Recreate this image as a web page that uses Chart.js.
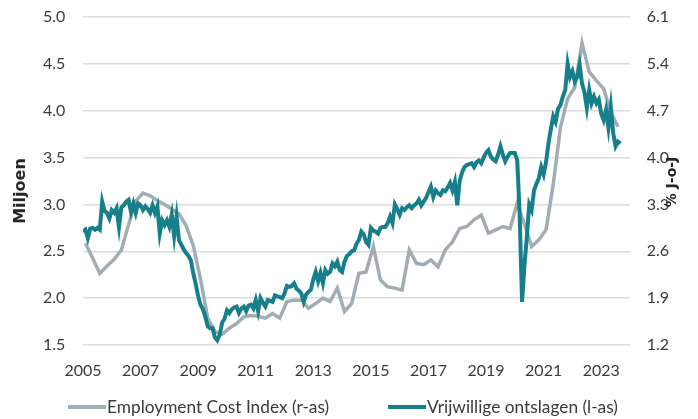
<!DOCTYPE html>
<html><head><meta charset="utf-8">
<script src="https://cdn.jsdelivr.net/npm/chart.js@4"></script>
<style>html,body{margin:0;padding:0;background:#fff}</style>
</head><body>
<canvas id="c" width="698" height="419"></canvas>
<script>
// Vrijwillige ontslagen (quits), millions, monthly from Jan 2005 (left axis)
const quitsStartYear = 2005;
const quitsMillions = [
2.71,2.73,2.64,2.74,2.75,2.73,2.75,2.73,3.03,2.93,2.91,2.85,
2.94,2.91,2.96,2.76,2.97,2.99,3.03,3.05,2.92,3.01,2.91,3.01,
2.99,2.94,2.98,2.95,2.91,2.99,2.91,2.98,2.69,2.83,2.78,2.83,
2.76,2.89,2.66,2.87,2.62,2.57,2.52,2.48,2.45,2.40,2.26,2.15,
2.02,1.93,1.88,1.80,1.70,1.68,1.68,1.58,1.55,1.61,1.74,1.78,
1.87,1.84,1.88,1.90,1.91,1.84,1.89,1.91,1.86,1.92,1.93,1.89,
1.98,1.86,2.00,1.95,1.91,1.98,1.97,1.96,2.03,2.02,2.01,2.00,
2.05,2.13,2.12,2.13,2.16,2.10,2.08,2.05,1.96,2.04,2.07,2.09,
2.20,2.28,2.18,2.27,2.16,2.30,2.26,2.28,2.37,2.34,2.39,2.30,
2.28,2.39,2.45,2.47,2.50,2.51,2.58,2.62,2.71,2.68,2.60,2.57,
2.75,2.72,2.71,2.69,2.75,2.76,2.76,2.80,2.87,2.80,3.00,2.95,
2.89,2.96,2.94,2.97,2.99,2.96,2.99,3.01,3.05,2.99,3.03,3.07,
3.13,3.19,3.08,3.15,3.12,3.10,3.15,3.14,3.18,3.23,3.15,3.24,
2.99,3.25,3.34,3.40,3.42,3.43,3.44,3.40,3.45,3.47,3.44,3.50,
3.55,3.58,3.51,3.48,3.46,3.53,3.62,3.53,3.46,3.51,3.55,3.55,
3.55,3.47,2.90,1.96,2.35,2.65,3.00,2.94,3.15,3.22,3.28,3.40,
3.32,3.45,3.65,3.80,3.94,3.88,4.02,4.06,4.15,4.22,4.50,4.36,
4.42,4.31,4.36,4.49,4.29,4.20,4.03,4.22,4.08,4.15,4.08,4.12,
3.97,3.90,4.01,3.82,4.04,3.76,3.62,3.67,3.65
];
// Employment Cost Index, % y/y, quarterly from 2005 Q1 (right axis)
const eciStartYear = 2005;
const eciPct = [
2.72,2.50,2.27,2.38,2.48,2.62,3.00,3.35,3.47,3.43,3.36,3.30,
3.23,3.16,2.98,2.68,2.18,1.60,1.40,1.36,1.45,1.52,1.62,1.64,
1.63,1.60,1.67,1.60,1.85,1.87,1.87,1.75,1.82,1.90,1.85,2.05,
1.70,1.82,2.27,2.29,2.67,2.17,2.07,2.05,2.02,2.62,2.42,2.40,
2.47,2.37,2.62,2.74,2.94,2.97,3.07,3.14,2.87,2.92,2.97,2.94,
3.32,3.00,2.67,2.77,2.92,3.60,4.45,4.88,5.05,5.71,5.28,5.15,
5.03,4.68,4.46
];
const xTickYears = [2005,2007,2009,2011,2013,2015,2017,2019,2021,2023];
const leftTicks = [1.5,2.0,2.5,3.0,3.5,4.0,4.5,5.0];
const rightTicks = [1.2,1.9,2.6,3.3,4.0,4.7,5.4,6.1];
const seriesLabels = ['Employment Cost Index (r-as)','Vrijwillige ontslagen (l-as)'];
const leftTitle = 'Miljoen';
const rightTitle = '% J-o-J';

const TEAL = '#177f8b';
const GREY = '#a2adb3';
const TXT = '#3a3a3a';

const quitsPts = quitsMillions.map((v,i)=>({x: quitsStartYear + i/12, y: v}));
const eciPts = eciPct.map((v,i)=>({x: eciStartYear + 1/12 + i/4, y: v}));

const extras = {
  id: 'extras',
  afterDraw(chart){
    const ctx = chart.ctx, ca = chart.chartArea;
    ctx.save();
    ctx.fillStyle = '#262626';
    ctx.textAlign = 'center'; ctx.textBaseline = 'middle';
    ctx.font = 'bold 16px "DejaVu Sans"';
    ctx.save(); ctx.translate(21, (ca.top+ca.bottom)/2 + 10); ctx.rotate(-Math.PI/2);
    ctx.fillText(leftTitle, 0, 0); ctx.restore();
    ctx.font = 'bold 14px "DejaVu Sans"';
    ctx.save(); ctx.translate(chart.width - 26, (ca.top+ca.bottom)/2 + 1); ctx.rotate(-Math.PI/2);
    ctx.fillText(rightTitle, 0, 0); ctx.restore();
    // legend
    const ly = 407;
    const items = [{x: 68, c: GREY, t: seriesLabels[0]}, {x: 388, c: TEAL, t: seriesLabels[1]}];
    ctx.textAlign = 'left';
    ctx.font = '17.3px Lato';
    items.forEach(it => {
      ctx.fillStyle = it.c;
      ctx.fillRect(it.x, ly - 2, 38, 4);
      ctx.fillStyle = TXT;
      ctx.fillText(it.t, it.x + 39, ly);
    });
    ctx.restore();
  }
};

new Chart(document.getElementById('c'), {
  type: 'line',
  data: {
    datasets: [
      {label: seriesLabels[0], data: eciPts, yAxisID: 'y2', borderColor: GREY, backgroundColor: GREY,
       borderWidth: 3.5, pointRadius: 0, tension: 0, order: 1},
      {label: seriesLabels[1], data: quitsPts, yAxisID: 'y', borderColor: TEAL, backgroundColor: TEAL,
       borderWidth: 4, pointRadius: 0, tension: 0, order: 0}
    ]
  },
  options: {
    responsive: false, animation: false, devicePixelRatio: 1,
    layout: {padding: {left: 43, right: 29, top: 17, bottom: 22.8}},
    plugins: {legend: {display: false}, tooltip: {enabled: false}},
    scales: {
      x: {type: 'linear', min: 2005, max: 2024,
          grid: {display: false, drawTicks: false}, border: {display: false},
          afterBuildTicks: s => { s.ticks = xTickYears.map(v => ({value: v})); },
          ticks: {padding: 16, color: TXT, font: {family: 'Lato', size: 16}, maxRotation: 0,
                  callback: v => String(v)}},
      y: {position: 'left', min: 1.5, max: 5.0,
          afterBuildTicks: s => { s.ticks = leftTicks.map(v => ({value: v})); },
          afterFit: s => { s.width = 40; },
          grid: {color: '#dcdcdc', lineWidth: 1.5, drawTicks: false}, border: {display: false},
          ticks: {padding: 0, crossAlign: 'far', color: TXT, font: {family: 'Lato', size: 16}, callback: v => v.toFixed(1)}},
      y2: {position: 'right', min: 1.2, max: 6.1,
          afterBuildTicks: s => { s.ticks = rightTicks.map(v => ({value: v})); },
          afterFit: s => { s.width = 39; },
          grid: {display: false, drawTicks: false}, border: {display: false},
          ticks: {padding: 0, crossAlign: 'far', color: TXT, font: {family: 'Lato', size: 16}, callback: v => v.toFixed(1)}}
    }
  },
  plugins: [extras]
});
</script>
</body></html>
